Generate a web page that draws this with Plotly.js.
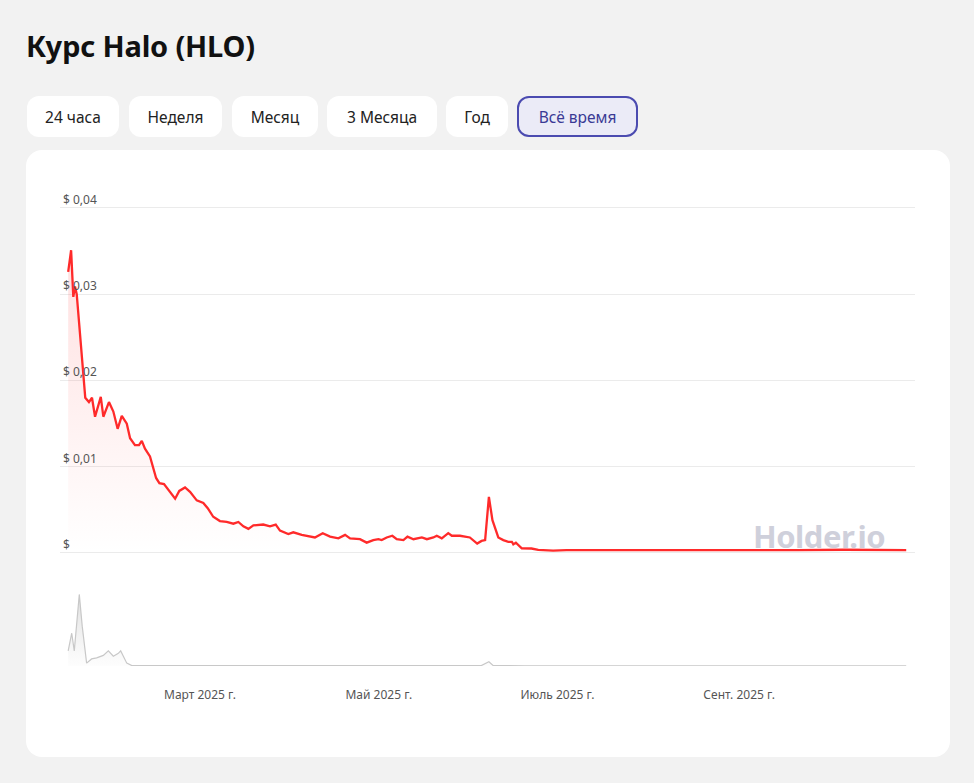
<!DOCTYPE html>
<html>
<head>
<meta charset="utf-8">
<script src="https://cdn.plot.ly/plotly-3.0.1.min.js"></script>
<style>
  html, body { margin:0; padding:0; }
  body { width:974px; height:783px; background:#f2f2f2; overflow:hidden; position:relative; font-family:"Noto Sans", "Open Sans", sans-serif; }
  h1 { position:absolute; left:26px; top:25px; margin:0; font-size:29px; font-weight:700; color:#111; line-height:42px; letter-spacing:-0.2px; }
  .btn { position:absolute; top:96px; height:41px; box-sizing:border-box; background:#fff; border-radius:12px; font-size:15.5px; color:#222; display:flex; align-items:center; justify-content:center; }
  .btn.active { background:#ebebf7; border:2px solid #4b4bb0; color:#3a3a95; }
  .card { position:absolute; left:26px; top:150px; width:924px; height:607px; background:#fff; border-radius:16px; }
  .wm { position:absolute; left:753px; top:515px; font-size:31px; font-weight:700; color:#cfd0db; letter-spacing:-0.5px; }
  #chart { position:absolute; left:0; top:0; width:974px; height:783px; }
</style>
</head>
<body>
<h1>Курс Halo (HLO)</h1>
<div class="btn" style="left:27px;width:92px;">24 часа</div>
<div class="btn" style="left:129px;width:93px;">Неделя</div>
<div class="btn" style="left:232px;width:86px;">Месяц</div>
<div class="btn" style="left:327px;width:110px;">3 Месяца</div>
<div class="btn" style="left:446px;width:62px;">Год</div>
<div class="btn active" style="left:517px;width:121px;">Всё время</div>
<div class="card"></div>
<div class="wm">Holder.io</div>
<div id="chart"></div>
<script>
const priceDates = [
  "2025-01-15 00:00","2025-01-16 00:00","2025-01-16 18:00","2025-01-17 08:00","2025-01-17 22:00",
  "2025-01-19 15:00","2025-01-20 20:00","2025-01-22 02:00","2025-01-23 03:00","2025-01-24 04:00",
  "2025-01-26 03:00","2025-01-27 00:00","2025-01-28 22:00","2025-01-30 10:00","2025-01-31 21:00",
  "2025-02-02 07:00","2025-02-04 00:00","2025-02-05 03:00","2025-02-06 19:00","2025-02-08 04:00",
  "2025-02-09 03:00","2025-02-10 05:00","2025-02-11 22:00","2025-02-14 00:00","2025-02-15 03:00",
  "2025-02-16 17:00","2025-02-18 19:00","2025-02-20 12:00","2025-02-21 22:00","2025-02-23 21:00",
  "2025-02-25 14:00","2025-02-27 21:00","2025-03-02 03:00","2025-03-03 15:00","2025-03-05 12:00",
  "2025-03-07 19:00","2025-03-10 02:00","2025-03-12 09:00","2025-03-14 02:00","2025-03-15 19:00",
  "2025-03-17 12:00","2025-03-19 05:00","2025-03-22 14:00","2025-03-24 21:00","2025-03-26 20:00",
  "2025-03-28 07:00","2025-03-31 03:00","2025-04-01 20:00","2025-04-04 17:00","2025-04-09 05:00",
  "2025-04-11 21:00","2025-04-14 09:00","2025-04-17 05:00","2025-04-19 12:00","2025-04-21 05:00",
  "2025-04-24 14:00","2025-04-26 21:00","2025-04-29 03:00","2025-04-30 21:00","2025-05-02 00:00",
  "2025-05-03 17:00","2025-05-05 15:00","2025-05-07 03:00","2025-05-09 10:00","2025-05-10 19:00",
  "2025-05-12 20:00","2025-05-15 17:00","2025-05-17 10:00","2025-05-19 15:00","2025-05-20 19:00",
  "2025-05-22 12:00","2025-05-24 17:00","2025-05-25 22:00","2025-05-28 17:00","2025-06-01 02:00",
  "2025-06-02 07:00","2025-06-03 14:00","2025-06-05 02:00","2025-06-06 07:00","2025-06-07 14:00",
  "2025-06-08 19:00","2025-06-10 19:00","2025-06-12 12:00","2025-06-14 05:00","2025-06-15 10:00",
  "2025-06-15 22:00","2025-06-16 19:00","2025-06-18 19:00","2025-06-22 03:00","2025-06-24 10:00",
  "2025-06-29 12:00","2025-07-04 02:00","2025-07-12 00:00","2025-07-22 00:00","2025-08-01 00:00",
  "2025-08-18 00:00","2025-09-04 00:00","2025-09-21 00:00","2025-10-07 00:00","2025-10-15 00:00",
  "2025-10-28 00:00"
];
const priceValues = [
  0.0326,0.0351,0.0297,0.0309,0.0300,
  0.0227,0.0180,0.0175,0.0180,0.0158,
  0.0181,0.0158,0.0175,0.0164,0.0144,
  0.0159,0.0150,0.0133,0.0125,0.0125,
  0.0130,0.0121,0.0112,0.0087,0.0081,
  0.0080,0.0070,0.0063,0.0072,0.0076,
  0.0071,0.0061,0.0058,0.0052,0.0042,
  0.0037,0.0036,0.0034,0.0036,0.0031,
  0.0028,0.0032,0.0033,0.0031,0.0033,
  0.0026,0.0022,0.0024,0.0021,0.0018,
  0.0023,0.0019,0.0017,0.0021,0.0017,
  0.0016,0.0012,0.0015,0.0016,0.0015,
  0.0018,0.0020,0.0016,0.0015,0.0019,
  0.0016,0.0018,0.0016,0.0018,0.0020,
  0.0017,0.0023,0.0020,0.0020,0.0018,
  0.0015,0.0011,0.0014,0.0015,0.0065,
  0.0038,0.0018,0.0015,0.0013,0.0013,
  0.0010,0.0012,0.00054,0.00052,0.00035,
  0.00027,0.00033,0.00033,0.00028,0.00032,
  0.00033,0.00033,0.00033,0.00038,0.00033,
  0.00033
];
const volumeDates = [
  "2025-01-15 00:00","2025-01-16 05:00","2025-01-17 02:00","2025-01-18 19:00","2025-01-19 19:00",
  "2025-01-21 07:00","2025-01-23 00:00","2025-01-24 17:00","2025-01-27 00:00","2025-01-28 17:00",
  "2025-01-30 10:00","2025-02-01 03:00","2025-02-01 22:00","2025-02-04 00:00","2025-02-05 17:00",
  "2025-02-10 00:00","2025-02-13 00:00","2025-02-15 08:00","2025-03-15 00:00","2025-04-15 00:00",
  "2025-05-15 00:00","2025-06-05 00:00","2025-06-07 14:00","2025-06-09 00:00","2025-06-20 00:00",
  "2025-07-15 00:00","2025-08-15 00:00","2025-09-15 00:00","2025-10-28 00:00"
];
const volumeValues = [
  14.3,31,14.3,67.7,37.7,
  2.7,6.7,7.7,10,14.3,
  9.3,12,14.3,2.7,0.4,
  0.4,1.0,0.3,0.3,0.3,
  0.3,0.4,4,0.5,0.2,
  0.2,0.2,0.2,0.2
];
const yTickVals = [0, 0.01, 0.02, 0.03, 0.04];
const yTickText = ["$", "$ 0,01", "$ 0,02", "$ 0,03", "$ 0,04"];
const xTickVals = ["2025-03-01", "2025-05-01", "2025-07-01", "2025-09-01"];
const xTickText = ["Март 2025 г.", "Май 2025 г.", "Июль 2025 г.", "Сент. 2025 г."];

const H = 783;
const frac = p => (H - p) / H;
const pxPerUnit = (553 - 208) / 0.04;
const yMin = -0.00012, yMax = 0.0425;

const traces = [
  {
    x: volumeDates, y: volumeValues, type: "scatter", mode: "lines",
    xaxis: "x", yaxis: "y2",
    line: { color: "#c8c8c8", width: 1.2 },
    fill: "tozeroy",
    fillgradient: { type: "vertical", colorscale: [[0, "rgba(215,215,215,0.05)"], [1, "rgba(200,200,200,0.6)"]] },
    hoverinfo: "skip"
  },
  {
    x: priceDates, y: priceValues, type: "scatter", mode: "lines",
    xaxis: "x", yaxis: "y",
    line: { color: "#ff2a2a", width: 2.3 },
    fill: "tozeroy",
    fillgradient: { type: "vertical", colorscale: [[0, "rgba(255,60,60,0)"], [1, "rgba(255,60,60,0.16)"]] },
    hoverinfo: "skip"
  }
];

const tf = { family: "Noto Sans, Open Sans, sans-serif", size: 12, color: "#555" };

const layout = {
  width: 974, height: 783,
  margin: { l: 60, r: 59, t: 0, b: 0 },
  paper_bgcolor: "rgba(0,0,0,0)",
  plot_bgcolor: "rgba(0,0,0,0)",
  showlegend: false,
  xaxis: {
    type: "date", range: ["2025-01-12 05:00", "2025-10-31 00:00"],
    anchor: "y2", showgrid: false, zeroline: false, showline: false,
    tickvals: xTickVals, ticktext: xTickText, tickfont: tf,
    ticks: "", ticklabelstandoff: 20
  },
  yaxis: {
    domain: [frac(553 - yMin * pxPerUnit), frac(553 - yMax * pxPerUnit)], range: [yMin, yMax],
    tickvals: yTickVals, ticktext: yTickText, tickfont: tf,
    ticklabelposition: "inside top", gridcolor: "#ebebeb", gridwidth: 1,
    zeroline: false, showline: false, ticks: ""
  },
  yaxis2: {
    domain: [frac(666), frac(592)], range: [0, 70],
    showgrid: false, zeroline: false, showticklabels: false, showline: false
  }
};

Plotly.newPlot("chart", traces, layout, { displayModeBar: false, staticPlot: true });
</script>
</body>
</html>
